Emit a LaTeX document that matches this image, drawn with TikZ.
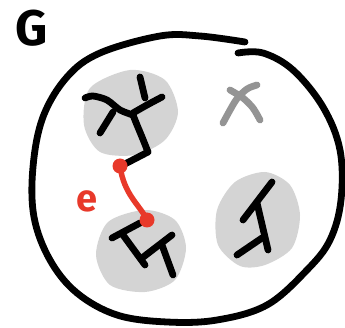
\documentclass[tikz,border=0pt]{standalone}
\usepackage{fontspec}
\setmainfont{Fira Sans}
\definecolor{edgered}{HTML}{E8392A}
\begin{document}
\begin{tikzpicture}[x=1pt,y=-1pt,line cap=round,line join=round,
   pen/.style={line width=6.8pt,black},
   greypen/.style={line width=6.8pt,black!42},
   redpen/.style={line width=5.5pt,edgered},
   blob/.style={fill=black!17},
   endpt/.style={circle,fill=edgered,inner sep=0pt,minimum size=15pt}]
\useasboundingbox (0,0) rectangle (345,328);
% graph G, the big hand drawn loop
\node[font=\fontsize{50}{50}\selectfont\bfseries] (glabel) at (32,28) {G};
\draw[pen] plot[smooth,tension=0.6] coordinates {(245,42) (200,36) (160,36) (100,53) (67,77) (43,117) (33,167)
   (34,217) (50,260) (77,293) (117,315) (167,322) (217,320) (267,305) (307,270) (330,240) (341,200)
   (340,150) (323,107) (293,70) (263,53) (238,53)};
% three shaded components
\fill[blob] plot[smooth cycle] coordinates {(130,70) (165,80) (178,112) (165,140) (135,155) (100,152) (84,125) (90,88)};
\fill[blob] plot[smooth cycle] coordinates {(145,210) (175,220) (186,248) (175,280) (145,292) (110,285) (96,255) (108,222)};
\fill[blob] plot[smooth cycle] coordinates {(265,172) (290,185) (300,215) (292,248) (265,265) (240,266) (218,245) (217,210) (235,182)};
% trees inside the components
\draw[pen] plot[smooth] coordinates {(85,98) (93,96) (107,100) (120,110) (133,115)};
\draw[pen] (113,112) -- (100,133);
\draw[pen] (140,77) -- (145,98);
\draw[pen] plot[smooth] coordinates {(162,97) (147,105) (133,113)};
\draw[pen] plot[smooth] coordinates {(133,115) (137,125) (142,137) (148,152)};
\draw[pen] (148,152) -- (123,165);
\draw[pen] (112,238) -- (140,223);
\draw[pen] (123,235) -- (145,265);
\draw[pen] (142,258) -- (172,235);
\draw[pen] (162,245) -- (173,275);
\draw[pen] (272,182) -- (243,220);
\draw[pen] (257,203) -- (268,250);
\draw[pen] (237,255) -- (262,238);
% isolated vertex, crossed out
\draw[greypen] plot[smooth] coordinates {(257,85) (247,89) (236,100) (223,123)};
\draw[greypen] plot[smooth] coordinates {(230,90) (243,98) (253,108) (260,120)};
% the edge e
\node[endpt] (ea) at (120,166) {};
\node[endpt] (eb) at (147,220) {};
\draw[redpen] (ea.center) .. controls (124,195) and (140,205) .. (eb.center);
\node[text=edgered,font=\fontsize{38}{38}\selectfont\bfseries] (elabel) at (87,201) {e};
\end{tikzpicture}
\end{document}
